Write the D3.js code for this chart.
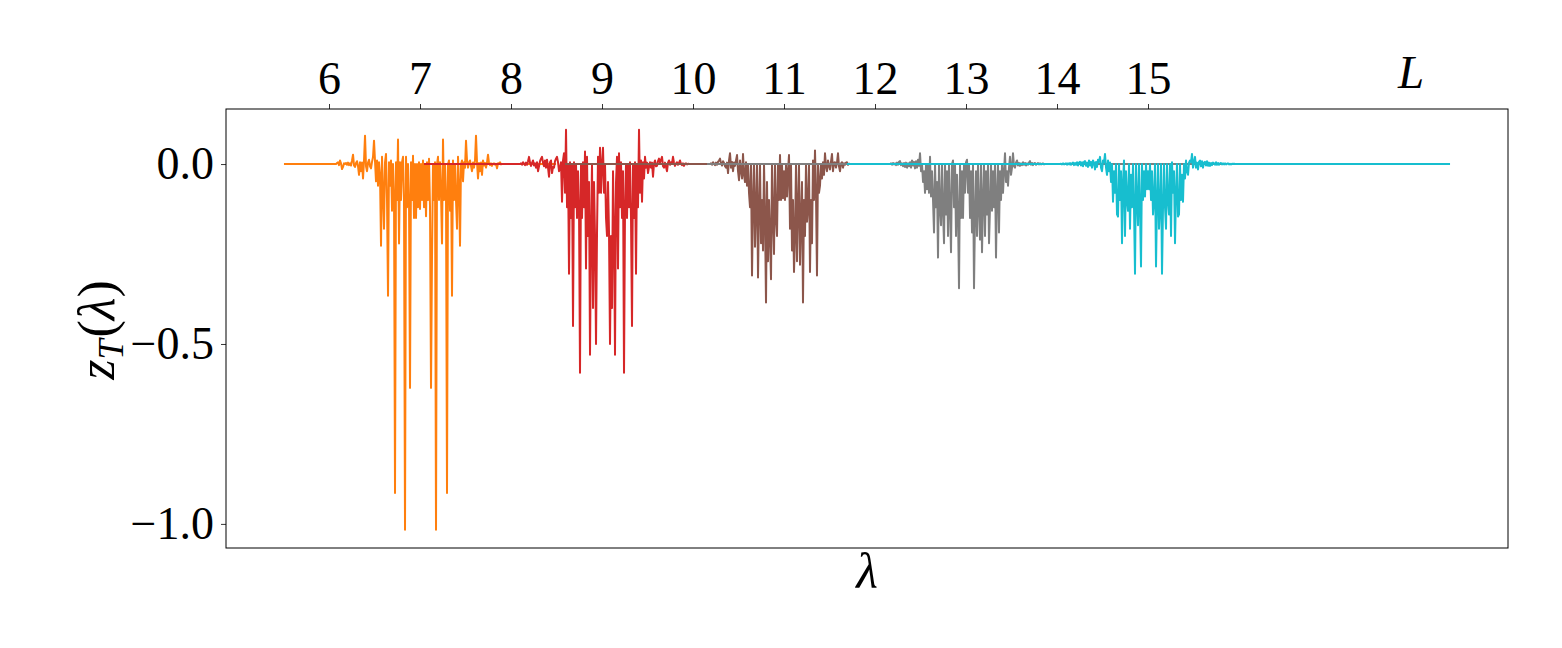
<!DOCTYPE html>
<html><head><meta charset="utf-8">
<script src="https://cdn.jsdelivr.net/npm/d3@7"></script>
<style>body{margin:0;background:#fff}svg{display:block}</style>
</head><body>
<script>
// System sizes L and their tab10 colours
const sizes = [7, 9, 11, 13, 15];
const colors = ["#ff7f0e", "#d62728", "#8c564b", "#7f7f7f", "#17becf"];
// full lambda extent of each spectrum (flat outside the active part)
const fullRange = [[5.505, 8.495], [7.044, 10.956], [8.593, 13.407], [10.154, 15.846], [11.692, 18.319]];
// lambda extent of the sampled (non-flat) part
const activeRange = [[6.077, 7.901], [8.099, 9.967], [10.187, 11.725], [12.165, 13.868], [14.033, 15.956]];

const zL7 = [0,0.003,0.005,-0.003,0.01,0.002,-0.014,-0.008,0.002,0,
0.003,-0.002,0.004,-0.003,0.002,-0.004,0.01,0.026,-0.004,-0.008,
0.003,0.008,-0.006,-0.03,0.005,-0.02,0.004,-0.04,0.01,0.079,
-0.006,-0.02,0.004,0.012,-0.006,-0.012,0.006,0.02,0.065,0.008,
-0.048,0.01,-0.06,0.005,-0.03,-0.227,0.02,-0.08,-0.18,0.005,
0.028,-0.1,-0.366,0.005,-0.06,0.01,-0.13,0.0,-0.08,-0.914,
0.005,-0.1,0.068,-0.221,0.005,-0.1,0.005,0.02,-0.1,-1.016,
0.02,-0.12,0.0,-0.1,-0.622,0.005,-0.1,0.023,-0.15,0.0,
-0.15,0.0,-0.12,0.005,-0.125,0.0,-0.1,0.01,-0.12,0.0,
-0.145,0.005,-0.1,0.015,-0.12,-0.622,-0.255,0.0,-0.1,0.005,
-1.016,0.0,0.02,-0.1,0.005,-0.08,-0.221,0.068,-0.1,0.0,
-0.08,-0.914,0.0,0.01,-0.13,0.0,-0.366,0.01,-0.1,0.0,
-0.1,-0.18,0.02,-0.06,-0.227,0.0,0.01,-0.048,0.005,-0.01,
0.065,0.01,-0.01,0.004,0.01,-0.005,-0.02,0.004,-0.01,0.01,
0.079,0.005,-0.04,0.003,-0.02,0.004,-0.03,0.01,-0.004,0.003,
-0.01,0.004,0.026,0.002,-0.003,0.002,-0.005,0.001,0.002,-0.002,
0.001,-0.012,0.002,0.001,0.005,-0.001,0];

const zL9 = [0,0.002,-0.002,0.005,0.001,-0.003,0.004,-0.002,0.008,0.02,
0.004,-0.005,0.003,0.01,-0.004,0.002,-0.01,0.005,-0.02,-0.006,
0.008,0.015,0.02,0.004,-0.006,0.01,-0.01,0.012,-0.01,-0.035,
0.005,0.01,-0.025,-0.008,-0.01,0.008,0.015,0.02,0.005,-0.02,
-0.01,0.005,-0.105,0.01,0.03,-0.08,0.095,-0.12,0.0,-0.305,
0.005,-0.15,0.0,-0.45,0.005,-0.12,0.0,-0.15,-0.02,-0.12,
-0.58,0.0,-0.15,0.005,-0.12,0.035,-0.29,0.02,-0.2,-0.05,
-0.53,-0.18,0.0,-0.4,-0.05,-0.2,-0.5,-0.19,0.02,-0.08,
0.045,-0.08,0.0,0.045,-0.08,0.0,-0.15,-0.2,-0.05,-0.19,
-0.5,-0.2,-0.4,-0.02,-0.18,-0.53,-0.05,0.02,-0.29,0.03,
-0.12,0.005,-0.15,-0.02,-0.58,-0.12,0.0,-0.15,0.0,-0.12,
0.005,-0.15,-0.45,0.0,-0.15,0.005,-0.305,0.0,-0.12,0.095,
-0.08,0.01,-0.105,0.005,-0.04,0.02,-0.01,0.004,-0.025,-0.008,
0.005,-0.01,0.004,-0.035,0.002,0.01,-0.006,-0.005,0.008,0.015,
0.004,0.012,0.02,-0.006,-0.01,0.004,-0.008,-0.02,0.004,0.01,
-0.002,0.005,0.002,0.02,0.003,-0.005,0.002,0.005,-0.002,0.003,
0.01,0.001,-0.003,0.002,-0.005,0.001,0.002,-0.001,0.001,0,
0];

const zL11 = [0,0.002,-0.002,0.005,0.001,-0.003,0.004,-0.002,0.006,0.01,
0.015,0.002,-0.004,0.008,0.003,-0.006,-0.01,0.004,-0.025,0.01,
0.03,-0.01,0.006,-0.02,0.004,-0.005,0.01,0.025,-0.02,-0.045,
0.01,-0.02,-0.04,0.028,-0.03,-0.05,0.005,-0.06,0.0,-0.08,
-0.12,0.0,-0.31,-0.1,0.0,-0.23,-0.12,0.0,-0.315,-0.12,
0.0,-0.22,-0.1,-0.24,0.0,-0.15,-0.385,-0.05,-0.27,-0.1,
-0.2,-0.32,0.0,-0.15,-0.25,0.0,-0.15,-0.2,0.0,-0.1,
0.025,-0.1,0.0,-0.095,-0.02,-0.1,0.0,-0.09,-0.02,0.025,
-0.18,0.0,-0.24,-0.1,-0.3,-0.2,0.0,-0.27,-0.12,0.0,
-0.28,-0.15,-0.05,-0.385,-0.1,-0.2,0.0,-0.16,-0.12,0.0,
-0.3,-0.1,-0.22,0.01,-0.1,0.038,-0.08,-0.31,0.0,-0.08,
-0.06,0.0,-0.04,0.005,-0.03,0.03,-0.006,-0.02,0.01,-0.004,
-0.015,0.006,0.028,-0.02,0.004,0.005,-0.01,0.003,0.03,-0.006,
-0.02,0.002,0.005,-0.01,0.002,-0.002,0.004,0.005,-0.002,0.001,
0];

const zL13 = [0,0.002,-0.002,0.003,-0.001,0.002,-0.003,0.004,-0.002,0.006,
0.008,-0.003,0.002,-0.006,0.003,-0.008,0.004,-0.01,0.002,-0.006,
0.005,-0.01,0.01,-0.004,0.006,-0.012,0.008,-0.01,0.012,-0.005,
0.03,-0.02,0.0,-0.05,-0.02,-0.08,0.0,-0.07,0.0,-0.08,
0.02,-0.09,-0.02,-0.1,-0.19,0.0,-0.12,-0.05,-0.26,0.0,
-0.12,-0.17,0.0,-0.13,-0.22,0.0,-0.14,-0.02,-0.2,0.0,
-0.12,-0.245,0.0,0.01,-0.12,0.0,-0.2,-0.03,-0.14,-0.345,
0.0,-0.15,-0.02,-0.15,0.0,-0.08,0.005,0.012,-0.08,0.0,
-0.15,-0.02,-0.19,0.0,-0.345,-0.14,-0.02,-0.2,0.0,-0.12,
-0.21,0.0,-0.245,-0.1,0.0,-0.2,-0.02,-0.14,0.0,-0.22,
-0.12,0.0,-0.13,-0.02,-0.12,0.0,-0.26,-0.08,0.0,-0.19,
-0.02,-0.1,0.0,-0.08,-0.02,0.03,-0.05,-0.02,-0.06,-0.01,
0.02,-0.03,-0.01,0.03,-0.006,-0.01,0.004,0.01,-0.004,0.003,
-0.005,0.002,-0.003,0.005,-0.002,0.003,-0.004,0.002,-0.002,0.004,
0.008,-0.002,0.003,-0.003,0.002,0.003,-0.002,0.001,0.003,-0.001,
0.002,-0.001,0.001,0.002,-0.001,0];

const zL15 = [0,0.001,-0.001,0.002,-0.001,0.001,0.002,-0.002,0.002,-0.001,
0.003,-0.002,0.002,0.004,-0.003,0.003,-0.002,0.005,-0.004,0.004,
0.006,-0.004,0.005,-0.006,0.006,0.008,-0.005,0.004,-0.008,0.01,
-0.004,0.006,-0.01,0.01,0.004,-0.015,0.006,-0.008,0.012,0.006,
0.02,-0.01,-0.02,0.01,0.005,0.028,-0.01,-0.03,0.01,-0.02,
0.004,-0.05,0.0,-0.105,-0.02,-0.08,0.0,-0.14,-0.146,0.0,
-0.1,-0.02,-0.22,-0.05,0.01,-0.2,-0.02,-0.1,-0.13,0.0,
-0.18,-0.03,-0.12,0.0,-0.12,-0.305,0.0,-0.1,-0.17,0.0,
-0.12,-0.285,0.0,-0.1,-0.02,-0.09,0.0,-0.07,-0.02,-0.07,
0.0,-0.1,-0.02,-0.14,-0.1,0.0,-0.285,-0.1,0.0,-0.18,
-0.12,0.0,-0.305,-0.12,0.0,-0.12,-0.18,0.0,-0.1,-0.14,
0.0,-0.2,0.005,-0.08,-0.02,-0.22,-0.08,0.0,-0.146,-0.14,
0.0,-0.1,-0.03,-0.105,0.0,-0.04,0.01,-0.02,-0.03,0.004,
0.01,0.005,0.028,-0.01,0.006,0.02,-0.01,0.004,-0.015,0.006,
0.01,-0.006,0.008,-0.01,0.004,0.006,-0.004,0.008,-0.005,0.004,
-0.005,0.003,-0.003,0.004,0.002,-0.002,0.005,-0.002,0.003,-0.002,
0.002,0.003,-0.001,0.002,-0.001,0.002,-0.001,0.001,0.002,-0.001,
0.001,-0.001,0.001,0,0.001,0];

const seriesValues = [zL7, zL9, zL11, zL13, zL15];
const topTickValues = [6, 7, 8, 9, 10, 11, 12, 13, 14, 15];
const yTickValues = [0.0, -0.5, -1.0];
const xDomain = [4.868, 18.956];
const yDomain = [-1.067, 0.153];

const W = 1562, H = 648;
const plot = {left: 226, right: 1508, top: 109, bottom: 548};
const FONT = "'Liberation Serif', 'DejaVu Serif', serif";

const svg = d3.select("body").append("svg").attr("width", W).attr("height", H)
  .style("background", "#fff");

const x = d3.scaleLinear().domain(xDomain).range([plot.left, plot.right]);
const y = d3.scaleLinear().domain(yDomain).range([plot.bottom, plot.top]);

const line = d3.line().x(d => x(d[0])).y(d => y(d[1]));

sizes.forEach((L, k) => {
  const vals = seriesValues[k];
  const [a0, a1] = activeRange[k];
  const [lo, hi] = fullRange[k];
  const n = vals.length;
  const pts = [[lo, 0]].concat(vals.map((v, i) => [a0 + i * (a1 - a0) / (n - 1), v]), [[hi, 0]]);
  svg.append("path").datum(pts)
    .attr("class", "series L" + L)
    .attr("d", line)
    .attr("fill", "none")
    .attr("stroke", colors[k])
    .attr("stroke-width", 2)
    .attr("stroke-linejoin", "round")
    .attr("stroke-linecap", "butt");
});

// frame
svg.append("rect").attr("x", plot.left).attr("y", plot.top)
  .attr("width", plot.right - plot.left).attr("height", plot.bottom - plot.top)
  .attr("fill", "none").attr("stroke", "#000").attr("stroke-width", 1);

// top axis (L)
const topAxis = d3.axisTop(x).tickValues(topTickValues).tickSize(5).tickPadding(10)
  .tickFormat(d3.format("d"));
const gTop = svg.append("g").attr("transform", `translate(0,${plot.top})`).call(topAxis);
gTop.select(".domain").remove();
gTop.selectAll("text").attr("font-family", FONT).attr("font-size", 46).attr("fill", "#000");
gTop.selectAll("line").attr("stroke", "#000").attr("stroke-width", 0.8);

// left axis
const leftAxis = d3.axisLeft(y).tickValues(yTickValues).tickSize(5).tickPadding(7)
  .tickFormat(d => d3.format(".1f")(d).replace("-", "\u2212"));
const gLeft = svg.append("g").attr("transform", `translate(${plot.left},0)`).call(leftAxis);
gLeft.select(".domain").remove();
gLeft.selectAll("text").attr("font-family", FONT).attr("font-size", 46).attr("fill", "#000");
gLeft.selectAll("line").attr("stroke", "#000").attr("stroke-width", 0.8);

// L label
svg.append("text").attr("x", 1411).attr("y", 88).attr("text-anchor", "middle")
  .attr("font-family", FONT).attr("font-style", "italic").attr("font-size", 47)
  .text("L");

// x label
svg.append("text").attr("x", 867).attr("y", 588).attr("text-anchor", "middle")
  .attr("font-family", FONT).attr("font-style", "italic").attr("font-size", 50)
  .text("λ");

// y label
const yl = svg.append("text").attr("transform", "translate(114,330) rotate(-90)")
  .attr("text-anchor", "middle").attr("font-family", FONT).attr("font-size", 52);
yl.append("tspan").attr("font-style", "italic").text("z");
yl.append("tspan").attr("font-style", "italic").attr("font-size", 36).attr("dy", 9).text("T");
yl.append("tspan").attr("dy", -9).attr("dx", 2).text("(");
yl.append("tspan").attr("font-style", "italic").text("λ");
yl.append("tspan").text(")");
</script>
</body></html>
